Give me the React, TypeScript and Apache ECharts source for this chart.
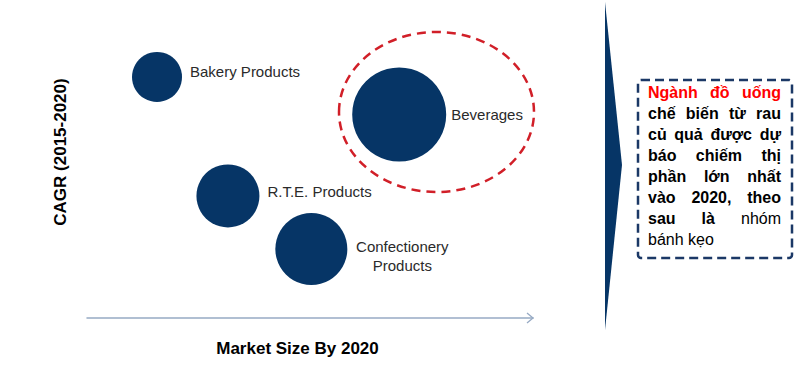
import React, { useEffect, useRef } from "react";
import * as echarts from "echarts";

// ---- data ----
const categories = ["Bakery Products", "Beverages", "R.T.E. Products", "Confectionery Products"];
const labelTexts = ["Bakery Products", "Beverages", "R.T.E. Products", "Confectionery\nProducts"];
const marketSize = [15.7, 70, 31.6, 50.3]; // x (relative)
const cagr = [75.8, 64, 38.4, 21.7]; // y (relative)
const bubbleSize = [50, 94, 63, 72]; // relative bubble size

const xTitle = "Market Size By 2020";
const yTitle = "CAGR (2015-2020)";

type Word = { t: string; bold: boolean; red?: boolean };
const noteLines: Word[][] = [
  [{ t: "Ngành", bold: true, red: true }, { t: "đồ", bold: true, red: true }, { t: "uống", bold: true, red: true }],
  [{ t: "chế", bold: true }, { t: "biến", bold: true }, { t: "từ", bold: true }, { t: "rau", bold: true }],
  [{ t: "củ", bold: true }, { t: "quả", bold: true }, { t: "được", bold: true }, { t: "dự", bold: true }],
  [{ t: "báo", bold: true }, { t: "chiếm", bold: true }, { t: "thị", bold: true }],
  [{ t: "phần", bold: true }, { t: "lớn", bold: true }, { t: "nhất", bold: true }],
  [{ t: "vào", bold: true }, { t: "2020,", bold: true }, { t: "theo", bold: true }],
  [{ t: "sau", bold: true }, { t: "là", bold: true }, { t: "nhóm", bold: false }],
  [{ t: "bánh", bold: false }, { t: "kẹo", bold: false }],
];

const FONT = "'Liberation Sans', Arial, sans-serif";
const NAVY = "#063566";

export default function App() {
  const ref = useRef<HTMLDivElement>(null);
  useEffect(() => {
    if (!ref.current) return;
    const chart = echarts.init(ref.current, undefined, { renderer: "svg" });

    // justified note text
    const canvas = document.createElement("canvas");
    const ctx = canvas.getContext("2d")!;
    const noteFontSize = 16;
    const measure = (w: Word) => {
      ctx.font = `${w.bold ? "bold" : "normal"} ${noteFontSize}px ${FONT}`;
      return ctx.measureText(w.t).width;
    };
    const left = 648;
    const right = 781;
    const firstBaseline = 100;
    const step = 21;
    const noteTexts: any[] = [];
    noteLines.forEach((line, li) => {
      const widths = line.map(measure);
      const total = widths.reduce((a, b) => a + b, 0);
      const last = li === noteLines.length - 1;
      const gap = last || line.length < 2 ? 4.5 : (right - left - total) / (line.length - 1);
      let x = left;
      line.forEach((w, wi) => {
        noteTexts.push({
          type: "text",
          x,
          y: firstBaseline + li * step,
          style: {
            text: w.t,
            fontFamily: FONT,
            fontSize: noteFontSize,
            fontWeight: w.bold ? "bold" : "normal",
            fill: w.red ? "#FF0000" : "#000000",
            verticalAlign: "bottom",
            align: "left",
          },
        });
        x += widths[wi] + gap;
      });
    });

    const labelOpts = [
      { position: "right", distance: 8, offset: [0, -5] },
      { position: "right", distance: 5, offset: [0, 0] },
      { position: "right", distance: 8, offset: [0, -4] },
      { position: "right", distance: 55, offset: [0, 7], align: "center", lineHeight: 19 },
    ];

    const data = categories.map((name, i) => ({
      name,
      value: [marketSize[i], cagr[i], bubbleSize[i]],
      label: {
        show: true,
        formatter: labelTexts[i],
        color: "#2a2a2a",
        fontSize: 15,
        fontFamily: FONT,
        ...labelOpts[i],
      },
    }));

    chart.setOption({
      animation: false,
      grid: { left: 87, right: 267, top: 0, bottom: 59 },
      xAxis: {
        type: "value",
        min: 0,
        max: 100,
        axisLine: { show: true, lineStyle: { color: "#97AAC4", width: 1.5 } },
        axisTick: { show: false },
        axisLabel: { show: false },
        splitLine: { show: false },
      },
      yAxis: {
        type: "value",
        min: 0,
        max: 100,
        axisLine: { show: false },
        axisTick: { show: false },
        axisLabel: { show: false },
        splitLine: { show: false },
      },
      series: [
        {
          type: "scatter",
          data,
          symbolSize: (v: number[]) => v[2],
          itemStyle: { color: NAVY, opacity: 1 },
          emphasis: { disabled: true },
        },
      ],
      graphic: [
        {
          type: "polyline",
          shape: { points: [[527, 313], [533, 318], [527, 323]] },
          style: { stroke: "#97AAC4", lineWidth: 1.3, fill: "none" },
        },
        {
          type: "ellipse",
          shape: { cx: 436.5, cy: 112, rx: 97.5, ry: 80 },
          style: { fill: "none", stroke: "#D11F28", lineWidth: 2.5, lineDash: [9, 6] },
          z: 10,
        },
        {
          type: "text",
          x: 297.5,
          y: 348,
          style: {
            text: xTitle,
            fontFamily: FONT,
            fontSize: 17,
            fontWeight: "bold",
            fill: "#000",
            align: "center",
            verticalAlign: "middle",
          },
        },
        {
          type: "text",
          x: 60,
          y: 152,
          rotation: Math.PI / 2,
          style: {
            text: yTitle,
            fontFamily: FONT,
            fontSize: 17,
            fontWeight: "bold",
            fill: "#000",
            align: "center",
            verticalAlign: "middle",
          },
        },
        {
          type: "polygon",
          shape: { points: [[605, 2], [622, 165], [605, 330]] },
          style: { fill: NAVY },
        },
        {
          type: "rect",
          shape: { x: 638, y: 80, width: 154, height: 178, r: 3 },
          style: { fill: "#fff", stroke: "#1B3866", lineWidth: 2.5, lineDash: [9, 5] },
        },
        ...noteTexts,
      ],
    });
    return () => chart.dispose();
  }, []);
  return (
    <div
      ref={ref}
      style={{ position: "fixed", left: 0, top: 0, width: 800, height: 377, background: "#fff" }}
    />
  );
}
